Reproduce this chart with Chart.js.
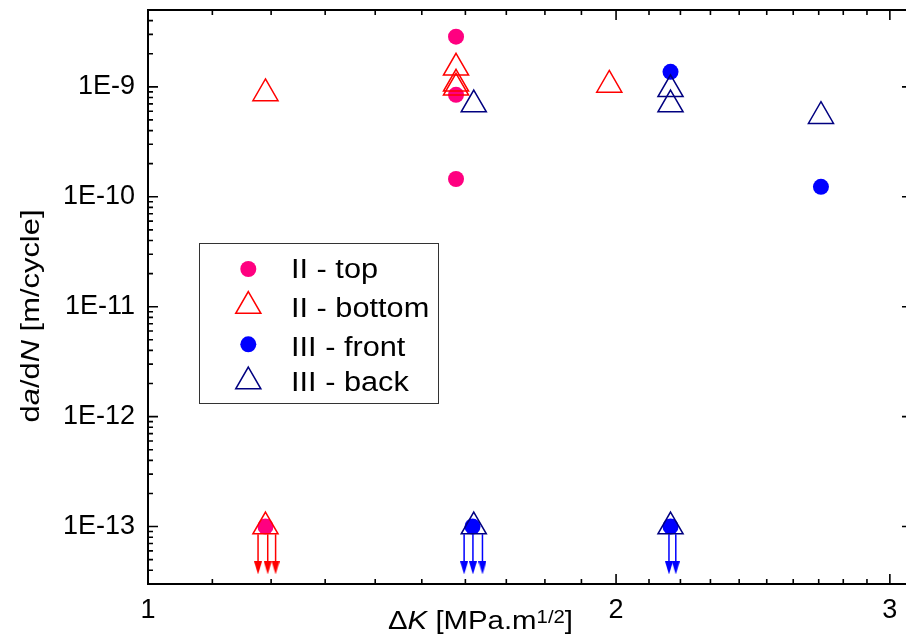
<!DOCTYPE html>
<html>
<head>
<meta charset="utf-8">
<script src="https://cdn.jsdelivr.net/npm/chart.js@4"></script>
<style>
  html, body { margin: 0; padding: 0; background: #fff; overflow: hidden; }
  #wrap { width: 906px; height: 644px; overflow: hidden; }
</style>
</head>
<body>
<!-- canvas is a bit wider than the window: the right frame line falls just outside, like the reference -->
<div id="wrap"><canvas id="chartCanvas" width="914" height="644"></canvas></div>
<script>
// ======== 1. DATA ========
const seriesNames = ["II - top", "II - bottom", "III - front", "III - back"];
const seriesColors = ["#ff0080", "#ff0000", "#0000ff", "#000080"];

// II - top (filled circles)
const topX = [1.578, 1.578, 1.578, 1.19];
const topY = [2.86e-9, 8.45e-10, 1.45e-10, 1e-13];
// II - bottom (open triangles)
const bottomX = [1.19, 1.578, 1.578, 1.578, 1.98, 1.19];
const bottomY = [8.7e-10, 1.49e-9, 1.065e-9, 9.8e-10, 1.04e-9, 1e-13];
// III - front (filled circles)
const frontX = [2.168, 2.709, 1.617, 2.168];
const frontY = [1.37e-9, 1.23e-10, 1e-13, 1e-13];
// III - back (open triangles)
const backX = [1.62, 2.168, 2.168, 2.709, 1.62, 2.168];
const backY = [6.9e-10, 9.5e-10, 6.9e-10, 5.4e-10, 1e-13, 1e-13];

// upper-limit arrows below the 1E-13 points
const arrowX = [1.177, 1.194, 1.208, 1.597, 1.618, 1.641, 2.163, 2.185];
const arrowColors = ["#ff0000", "#ff0000", "#ff0000", "#0000ff", "#0000ff", "#0000ff", "#0000ff", "#0000ff"];
const arrowFromY = 8.5e-14;
const arrowToY = 4.2e-14;

// axes
const xMin = 1, xMax = 3.1;
const yMin = 3e-14, yMax = 5e-9;
const xTickValues = [1, 2, 3];
const yTickValues = [1e-13, 1e-12, 1e-11, 1e-10, 1e-9];

// ======== 2. HELPERS ========
function pts(xs, ys) {
  return xs.map((x, i) => ({ x: x, y: ys[i] }));
}

function arrowHead(color) {
  const c = document.createElement("canvas");
  c.width = 8;
  c.height = 13;
  const g = c.getContext("2d");
  g.fillStyle = color;
  g.beginPath();
  g.moveTo(0, 0);
  g.lineTo(8, 0);
  g.lineTo(4, 13);
  g.closePath();
  g.fill();
  return c;
}

function triPath(ctx, x, y, r) {
  ctx.beginPath();
  ctx.moveTo(x, y - r);
  ctx.lineTo(x + r * Math.sin(Math.PI / 3), y + r / 2);
  ctx.lineTo(x - r * Math.sin(Math.PI / 3), y + r / 2);
  ctx.closePath();
}

// draw a row of [text, italic, superscript] pieces, stretched to a given length
function drawPieces(ctx, pieces, size, length, align) {
  const fontOf = p => (p[1] ? "italic " : "") + (p[2] ? Math.round(size * 0.7) : size) + "px 'Liberation Sans', Arial, sans-serif";
  let natural = 0;
  pieces.forEach(p => { ctx.font = fontOf(p); natural += ctx.measureText(p[0]).width; });
  const s = length / natural;
  ctx.scale(s, 1);
  let x = align === "center" ? -natural / 2 : 0;
  pieces.forEach(p => {
    ctx.font = fontOf(p);
    ctx.fillText(p[0], x, p[2] ? -size * 0.22 : 0);
    x += ctx.measureText(p[0]).width;
  });
}

// no extra room for half tick labels, the frame goes right to the set box
function fixPadding(s) {
  s.paddingLeft = 0;
  s.paddingRight = 0;
  s.paddingTop = 0;
  s.paddingBottom = 0;
}

// ======== 3. PLUGINS: FRAME, TICKS, TITLES, LEGEND ========
const framePlugin = {
  id: "frame",
  afterDatasetsDraw(chart) {
    const { ctx, chartArea: a, scales } = chart;
    const xs = scales.x, ys = scales.y;
    ctx.save();
    ctx.strokeStyle = "#000";
    ctx.lineWidth = 2;
    ctx.strokeRect(a.left, a.top, a.right - a.left, a.bottom - a.top);
    ctx.lineWidth = 1.6;
    ctx.beginPath();
    const xTicks = [];
    for (let v = 1.1; v < xMax - 0.001; v += 0.1) xTicks.push(Math.round(v * 10) / 10);
    xTicks.forEach(v => {
      const px = xs.getPixelForValue(v);
      const len = xTickValues.includes(v) ? 10 : 5;
      ctx.moveTo(px, a.bottom); ctx.lineTo(px, a.bottom - len);
      ctx.moveTo(px, a.top); ctx.lineTo(px, a.top + len);
    });
    for (let e = -14; e <= -9; e++) {
      for (let k = 1; k <= 9; k++) {
        const v = k * Math.pow(10, e);
        if (v <= yMin * 1.001 || v >= yMax * 0.999) continue;
        const py = ys.getPixelForValue(v);
        const len = k === 1 ? 10 : 5;
        ctx.moveTo(a.left, py); ctx.lineTo(a.left + len, py);
        ctx.moveTo(a.right, py); ctx.lineTo(a.right - len, py);
      }
    }
    ctx.stroke();
    ctx.restore();
  },
  afterDraw(chart) {
    const { ctx } = chart;
    ctx.save();
    ctx.fillStyle = "#000";
    ctx.textBaseline = "alphabetic";

    // x title
    ctx.save();
    ctx.translate(388, 629);
    drawPieces(ctx, [["\u0394", false], ["K", true], [" [MPa.m", false], ["1/2", false, true], ["]", false]], 26, 185, "left");
    ctx.restore();

    // y title
    ctx.save();
    ctx.translate(39, 316);
    ctx.rotate(-Math.PI / 2);
    drawPieces(ctx, [["d", false], ["a", true], ["/d", false], ["N", true], [" [m/cycle]", false]], 26, 213, "center");
    ctx.restore();

    // legend
    ctx.lineWidth = 1;
    ctx.strokeStyle = "#333";
    ctx.strokeRect(199.5, 243.5, 239, 160);
    const rowText = [278, 317, 355.5, 391];
    const rowMark = [269, 306, 344.3, 381.5];
    const filled = [true, false, true, false];
    seriesNames.forEach((name, i) => {
      if (filled[i]) {
        ctx.fillStyle = seriesColors[i];
        ctx.beginPath();
        ctx.arc(248.3, rowMark[i], 8, 0, Math.PI * 2);
        ctx.fill();
      } else {
        ctx.strokeStyle = seriesColors[i];
        ctx.lineWidth = 1.5;
        triPath(ctx, 248.3, rowMark[i], 14.5);
        ctx.stroke();
      }
      ctx.save();
      ctx.fillStyle = "#000";
      ctx.translate(291, rowText[i]);
      ctx.font = "27px 'Liberation Sans', Arial, sans-serif";
      const w = ctx.measureText("II - bottom").width;
      ctx.scale(138.3 / w, 1);
      ctx.fillText(name, 0, 0);
      ctx.restore();
    });
    ctx.restore();
  }
};

// ======== 4. CHART ========
const arrowSets = arrowX.map((x, i) => ({
  label: "arrow" + i,
  data: [{ x: x, y: arrowFromY }, { x: x, y: arrowToY }],
  showLine: true,
  borderColor: arrowColors[i],
  borderWidth: 1.5,
  pointStyle: [false, arrowHead(arrowColors[i])],
  pointRadius: [0, 5],
  order: 5
}));

const ctx = document.getElementById("chartCanvas").getContext("2d");
new Chart(ctx, {
  type: "scatter",
  data: {
    datasets: [
      {
        label: seriesNames[0], data: pts(topX, topY),
        pointStyle: "circle", pointRadius: 8, borderWidth: 0,
        backgroundColor: seriesColors[0], borderColor: seriesColors[0], order: 2
      },
      {
        label: seriesNames[1], data: pts(bottomX, bottomY),
        pointStyle: "triangle", pointRadius: 14.5, borderWidth: 1.5,
        backgroundColor: "rgba(0,0,0,0)", borderColor: seriesColors[1], order: 1
      },
      {
        label: seriesNames[2], data: pts(frontX, frontY),
        pointStyle: "circle", pointRadius: 8, borderWidth: 0,
        backgroundColor: seriesColors[2], borderColor: seriesColors[2], order: 2
      },
      {
        label: seriesNames[3], data: pts(backX, backY),
        pointStyle: "triangle", pointRadius: 14.5, borderWidth: 1.5,
        backgroundColor: "rgba(0,0,0,0)", borderColor: seriesColors[3], order: 1
      },
      ...arrowSets
    ]
  },
  options: {
    responsive: false,
    animation: false,
    layout: { autoPadding: false, padding: { top: 10, right: 2, left: 0, bottom: 0 } },
    plugins: { legend: { display: false }, tooltip: { enabled: false } },
    scales: {
      x: {
        type: "logarithmic", min: xMin, max: xMax,
        grid: { display: false, drawTicks: false },
        border: { display: false },
        afterBuildTicks: s => { s.ticks = xTickValues.map(v => ({ value: v })); },
        afterFit: s => { s.height = 60; fixPadding(s); },
        ticks: {
          autoSkip: false, maxRotation: 0, padding: 10, color: "#000",
          font: { family: "'Liberation Sans', Arial, sans-serif", size: 27 },
          callback: v => String(v)
        }
      },
      y: {
        type: "logarithmic", min: yMin, max: yMax,
        grid: { display: false, drawTicks: false },
        border: { display: false },
        afterBuildTicks: s => { s.ticks = yTickValues.map(v => ({ value: v })); },
        afterFit: s => { s.width = 148; fixPadding(s); },
        ticks: {
          autoSkip: false, padding: 13, color: "#000",
          font: { family: "'Liberation Sans', Arial, sans-serif", size: 27 },
          callback: v => "1E" + Math.round(Math.log10(v))
        }
      }
    }
  },
  plugins: [framePlugin]
});
</script>
</body>
</html>
